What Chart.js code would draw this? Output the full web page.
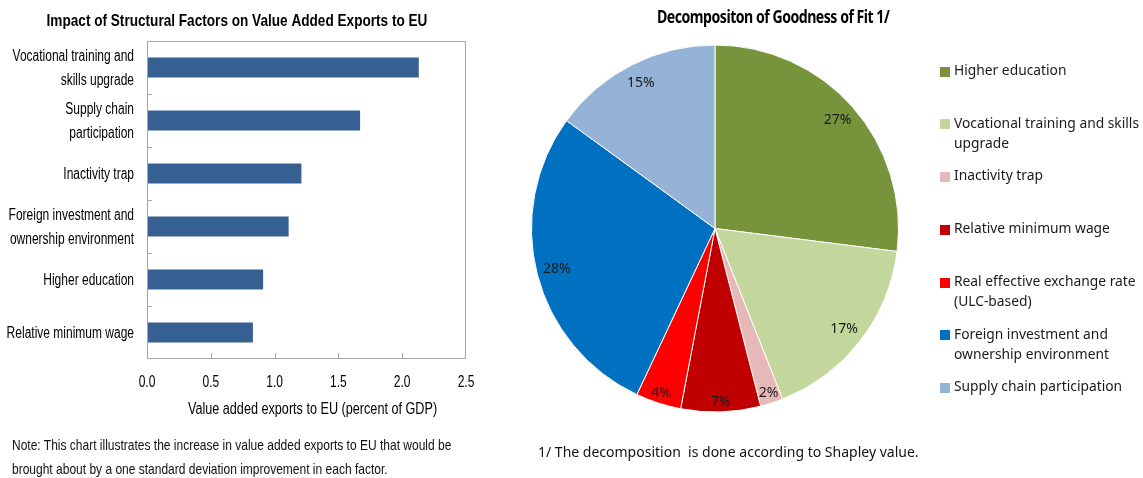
<!DOCTYPE html>
<html>
<head>
<meta charset="utf-8">
<script src="https://cdn.jsdelivr.net/npm/chart.js@4.4.1/dist/chart.umd.min.js"></script>
<style>
  html, body { margin: 0; padding: 0; background: #ffffff; }
  #wrap { position: relative; width: 1143px; height: 478px; overflow: hidden; }
  #barCanvas { position: absolute; left: 0; top: 0; }
  #pieCanvas { position: absolute; left: 500px; top: 0; }
  .sans { font-family: "Noto Sans", "Open Sans", sans-serif; }
  #barNote { position: absolute; left: 12px; top: 433px; font-family: "Liberation Sans", Arial, sans-serif;
             font-size: 15px; line-height: 24px; color: #111; white-space: nowrap;
             transform: scaleX(0.8); transform-origin: 0 0; }
  #pieTitle { position: absolute; left: 657px; top: 5px; font-size: 17px; font-weight: bold; color: #000;
              letter-spacing: -0.6px; white-space: nowrap; transform: scaleX(0.83); transform-origin: 0 0; }
  #pieNote { position: absolute; left: 538px; top: 442px; font-size: 14px; color: #111; white-space: pre; }
</style>
</head>
<body>
<div id="wrap">
  <canvas id="barCanvas" width="490" height="478"></canvas>
  <canvas id="pieCanvas" width="643" height="478"></canvas>
  <div id="barNote">Note: This chart illustrates the increase in value added exports to EU that would be<br>brought about by a one standard deviation improvement in each factor.</div>
  <div id="pieTitle" class="sans">Decompositon of Goodness of Fit 1/</div>
  <div id="pieNote" class="sans">1/ The decomposition  is done according to Shapley value.</div>
</div>
<script>
// ---- Left panel: impact of each structural factor ----
const factorLabels = [
  ["Vocational training and", "skills upgrade"],
  ["Supply chain", "participation"],
  ["Inactivity trap"],
  ["Foreign investment and", "ownership environment"],
  ["Higher education"],
  ["Relative minimum wage"]
];
const factorImpact = [2.13, 1.67, 1.21, 1.11, 0.91, 0.83];
const impactTicks = [0, 0.5, 1.0, 1.5, 2.0, 2.5];
const impactTitle = 'Impact of Structural Factors on Value Added Exports to EU';
const impactAxisTitle = 'Value added exports to EU (percent of GDP)';

// ---- Right panel: Shapley decomposition of goodness of fit ----
const shareLabels = [
  "Higher education",
  "Vocational training and skills upgrade",
  "Inactivity trap",
  "Relative minimum wage",
  "Real effective exchange rate (ULC-based)",
  "Foreign investment and ownership environment",
  "Supply chain participation"
];
const shareLegendLines = [
  ["Higher education"],
  ["Vocational training and skills", "upgrade"],
  ["Inactivity trap"],
  ["Relative minimum wage"],
  ["Real effective exchange rate", "(ULC-based)"],
  ["Foreign investment and", "ownership environment"],
  ["Supply chain participation"]
];
const shareValues = [27, 17, 2, 7, 4, 28, 15];

const sliceColors = ["#77933C", "#C3D69B", "#E6B9B8", "#C00000", "#FF0000", "#0070C0", "#95B3D7"];
const ARIAL = '"Liberation Sans", Arial, sans-serif';
const SANS = '"Noto Sans", "Open Sans", sans-serif';
const SQUEEZE = 0.75;   // horizontal compression for the narrow face of the left panel

function narrowText(ctx, text, x, y, align, sx) {
  ctx.save();
  ctx.translate(x, y);
  ctx.scale(sx, 1);
  ctx.textAlign = align;
  ctx.fillText(text, 0, 0);
  ctx.restore();
}

// Frame, inward tick marks and all narrow-face text of the bar panel
const barDecor = {
  id: 'barDecor',
  afterDatasetsDraw(chart) {
    const { ctx, chartArea: a, scales: { x, y } } = chart;
    ctx.save();
    ctx.strokeStyle = '#A6A6A6';
    ctx.lineWidth = 1;
    ctx.strokeRect(Math.round(a.left) + 0.5, Math.round(a.top) + 0.5,
                   Math.round(a.right - a.left) - 1, Math.round(a.bottom - a.top) - 1);
    ctx.beginPath();
    impactTicks.forEach(v => {
      const px = Math.round(x.getPixelForValue(v)) + 0.5;
      if (px <= a.left + 1 || px >= a.right - 1) return;
      ctx.moveTo(px, a.bottom);
      ctx.lineTo(px, a.bottom - 6);
    });
    for (let i = 0; i < factorLabels.length - 1; i++) {
      const py = Math.round((y.getPixelForValue(i) + y.getPixelForValue(i + 1)) / 2) + 0.5;
      ctx.moveTo(a.left, py);
      ctx.lineTo(a.left + 5, py);
    }
    ctx.stroke();

    ctx.fillStyle = '#000';
    ctx.textBaseline = 'middle';
    ctx.font = '16px ' + ARIAL;
    factorLabels.forEach((lines, i) => {
      const cy = y.getPixelForValue(i) + 1;
      const gap = 24;
      const y0 = cy - (lines.length - 1) * gap / 2;
      lines.forEach((ln, k) => narrowText(ctx, ln, a.left - 13, y0 + k * gap, 'right', SQUEEZE));
    });
    impactTicks.forEach(v => narrowText(ctx, v.toFixed(1), x.getPixelForValue(v), a.bottom + 24, 'center', SQUEEZE));
    narrowText(ctx, impactAxisTitle, (a.left + a.right) / 2 + 6, a.bottom + 51, 'center', 0.79);
    ctx.font = 'bold 17px ' + ARIAL;
    narrowText(ctx, impactTitle, 237, 21, 'center', 0.8);
    ctx.restore();
  }
};

new Chart(document.getElementById('barCanvas'), {
  type: 'bar',
  data: {
    labels: factorLabels.map(l => l.join(' ')),
    datasets: [{
      data: factorImpact,
      backgroundColor: '#376092',
      borderWidth: 0,
      barPercentage: 0.38,
      categoryPercentage: 1.0
    }]
  },
  options: {
    indexAxis: 'y',
    responsive: false,
    animation: false,
    events: [],
    layout: { padding: { left: 0, right: 24, top: 41, bottom: 58 } },
    plugins: {
      legend: { display: false },
      tooltip: { enabled: false },
      title: { display: false }
    },
    scales: {
      x: {
        min: impactTicks[0],
        max: impactTicks[impactTicks.length - 1],
        grid: { display: false },
        border: { display: false },
        ticks: { display: false, stepSize: 0.5 },
        afterFit: s => { s.height = 61; }
      },
      y: {
        grid: { display: false },
        border: { display: false },
        ticks: { display: false },
        afterFit: s => { s.width = 147; }
      }
    }
  },
  plugins: [barDecor]
});

// Percentage labels placed inside each slice
const sliceLabels = {
  id: 'sliceLabels',
  afterDatasetsDraw(chart) {
    const { ctx } = chart;
    const meta = chart.getDatasetMeta(0);
    ctx.save();
    ctx.font = '14px ' + SANS;
    ctx.fillStyle = '#1a1a1a';
    ctx.textAlign = 'center';
    ctx.textBaseline = 'middle';
    meta.data.forEach((arc, i) => {
      const v = shareValues[i];
      const { x, y, startAngle, endAngle, outerRadius } = arc.getProps(['x', 'y', 'startAngle', 'endAngle', 'outerRadius'], true);
      const mid = (startAngle + endAngle) / 2;
      const r = outerRadius * (v < 10 ? 0.945 : 0.89);
      ctx.fillText(v + '%', x + Math.cos(mid) * r, y + Math.sin(mid) * r);
    });
    ctx.restore();
  }
};

// Legend column to the right of the pie
const sideLegend = {
  id: 'sideLegend',
  afterDraw(chart) {
    const { ctx, chartArea: a } = chart;
    const x0 = a.right + 41;
    const step = 52.75;
    const firstY = a.top + 26.5;
    ctx.save();
    ctx.font = '13.8px ' + SANS;
    ctx.textAlign = 'left';
    ctx.textBaseline = 'middle';
    shareLegendLines.forEach((lines, i) => {
      const cy = firstY + i * step;
      ctx.fillStyle = sliceColors[i];
      ctx.fillRect(x0, Math.round(cy - 4.5), 10, 10);
      ctx.fillStyle = '#1a1a1a';
      lines.forEach((ln, k) => ctx.fillText(ln, x0 + 14, cy + k * 20));
    });
    ctx.restore();
  }
};

new Chart(document.getElementById('pieCanvas'), {
  type: 'pie',
  data: {
    labels: shareLabels,
    datasets: [{
      data: shareValues,
      backgroundColor: sliceColors,
      borderColor: '#ffffff',
      borderWidth: 1,
      hoverOffset: 0
    }]
  },
  options: {
    responsive: false,
    animation: false,
    events: [],
    layout: { padding: { left: 31, right: 244, top: 44.5, bottom: 65.5 } },
    plugins: {
      legend: { display: false },
      tooltip: { enabled: false },
      title: { display: false }
    }
  },
  plugins: [sliceLabels, sideLegend]
});
</script>
</body>
</html>
